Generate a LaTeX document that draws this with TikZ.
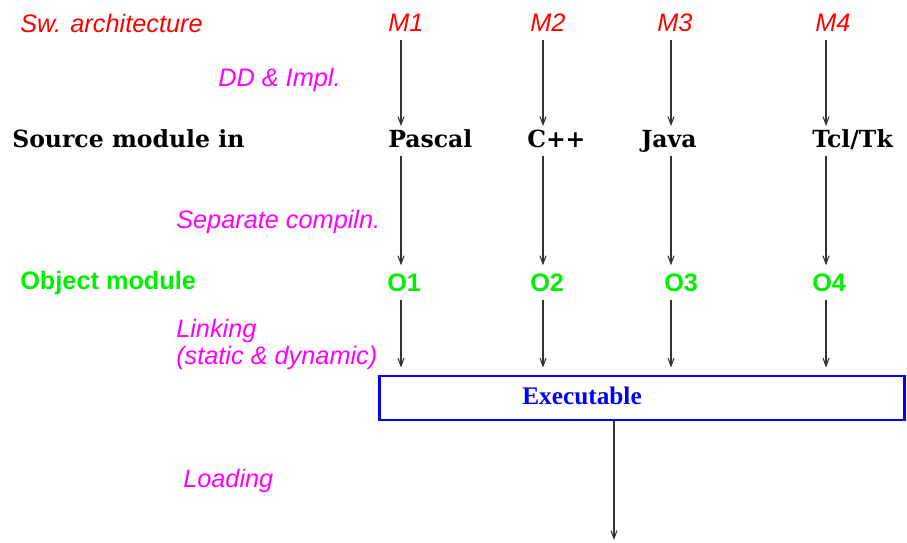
\documentclass[tikz,border=0pt]{standalone}
\usepackage{fontspec}
\usetikzlibrary{arrows.meta}
\newfontfamily\helv{Liberation Sans}
\newfontfamily\slab{DejaVu Serif}
\newfontfamily\tms{Liberation Serif}
\definecolor{mred}{RGB}{255,0,0}
\definecolor{mpink}{RGB}{255,0,255}
\definecolor{mgreen}{RGB}{0,240,0}
\definecolor{mblue}{RGB}{0,0,255}
\begin{document}
\begin{tikzpicture}[
    every node/.style={inner sep=4.5pt},
    level/.style={anchor=west, text=mred, font=\helv\itshape\fontsize{14.4}{17}\selectfont},
    phase/.style={anchor=west, text=mpink, align=left, font=\helv\itshape\fontsize{14.4}{15.4}\selectfont},
    lang/.style={anchor=west, text height=0.76em, text depth=0pt, font=\slab\bfseries\fontsize{13.4}{16}\selectfont},
    objm/.style={anchor=west, text=mgreen, font=\helv\bfseries\fontsize{14.4}{17}\selectfont},
    flow/.style={draw=black!80, line width=0.6pt, -{Straight Barb[length=1.6mm,width=1.2mm]}}]
		\useasboundingbox (0,0) rectangle (18.14,-10.84);
		% columns of the arrows
		\coordinate (c1) at (8.02,0);
		\coordinate (c2) at (10.86,0);
		\coordinate (c3) at (13.42,0);
		\coordinate (c4) at (16.52,0);
		\coordinate (cl) at (12.28,0);
		
		% architecture
		\node[level] (swarch) at (0.24,-0.46) {Sw. architecture};
		\node[level] (m1) at (7.60,-0.46) {M1};
		\node[level] (m2) at (10.44,-0.46) {M2};
		\node[level] (m3) at (12.98,-0.46) {M3};
		\node[level] (m4) at (16.14,-0.46) {M4};
		\node[phase] (ddimpl) at (4.20,-1.60) {DD \& Impl.};
		
		% source modules
		\node[lang] (src) at (0.08,-2.82) {Source module in};
		\node[lang] (pascal) at (7.60,-2.82) {Pascal};
		\node[lang] (cpp) at (10.38,-2.82) {C++};
		\node[lang] (java) at (12.66,-2.82) {Java};
		\node[lang] (tcl) at (16.08,-2.82) {Tcl/Tk};
		\node[phase] (sepcomp) at (3.36,-4.44) {Separate compiln.};
		
		% object modules
		\node[objm] (objmod) at (0.24,-5.66) {Object module};
		\node[objm] (o1) at (7.58,-5.65) {O1};
		\node[objm] (o2) at (10.44,-5.65) {O2};
		\node[objm] (o3) at (13.12,-5.65) {O3};
		\node[objm] (o4) at (16.08,-5.65) {O4};
		\node[phase] (linking) at (3.36,-6.89) {Linking\\(static \& dynamic)};
		
		% executable
		\node[draw=mblue, line width=1.4pt, minimum width=10.5cm, minimum height=0.88cm] (exe) at (12.84,-7.955) {};
		\node[text=mblue, font=\tms\bfseries\fontsize{14.4}{17}\selectfont] (exelabel) at (11.64,-7.92) {Executable};
		\node[phase] (loading) at (3.50,-9.62) {Loading};
		\coordinate (run) at (12.28,-10.80);
		
		\draw[flow] (m1.south -| c1) -- (pascal.north -| c1);
		\draw[flow] (m2.south -| c2) -- (cpp.north -| c2);
		\draw[flow] (m3.south -| c3) -- (java.north -| c3);
		\draw[flow] (m4.south -| c4) -- (tcl.north -| c4);
		
		\draw[flow] (pascal.south -| c1) -- (o1.north -| c1);
		\draw[flow] (cpp.south -| c2) -- (o2.north -| c2);
		\draw[flow] (java.south -| c3) -- (o3.north -| c3);
		\draw[flow] (tcl.south -| c4) -- (o4.north -| c4);
		
		\draw[flow, shorten >=0.14cm] (o1.south -| c1) -- (exe.north -| c1);
		\draw[flow, shorten >=0.14cm] (o2.south -| c2) -- (exe.north -| c2);
		\draw[flow, shorten >=0.14cm] (o3.south -| c3) -- (exe.north -| c3);
		\draw[flow, shorten >=0.14cm] (o4.south -| c4) -- (exe.north -| c4);
		
		\draw[flow] (exe.south -| cl) -- (run);
\end{tikzpicture}
\end{document}
